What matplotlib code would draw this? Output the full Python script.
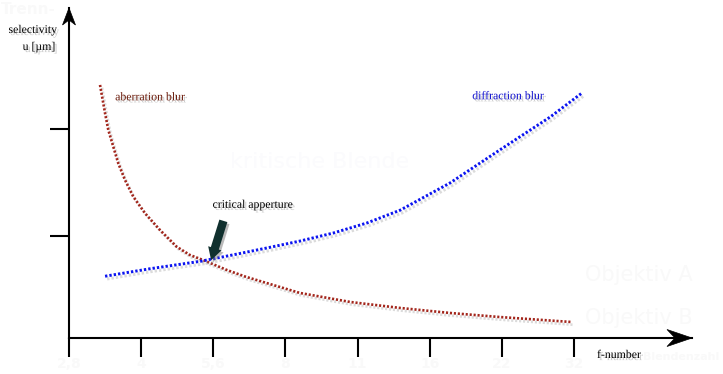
import matplotlib
matplotlib.use("Agg")
import matplotlib.pyplot as plt
import matplotlib.patheffects as pe
import matplotlib.transforms as mtransforms
from matplotlib.patches import Polygon

# ---- data (x = position of the f-stop on the axis, 0 -> 2.8 ... 7 -> 32) ----
fstop_labels = ["2,8", "4", "5,6", "8", "11", "16", "22", "32"]
fstop_pos = [0, 1, 2, 3, 4, 5, 6, 7]

aberr_x = [0.43, 0.50, 0.545, 0.614, 0.683, 0.776, 0.891, 1.054, 1.261, 1.493,
           1.677, 1.86, 2.19, 2.45, 2.74, 3.20, 3.90, 4.59, 5.28, 5.97, 6.97]
aberr_y = [23.76, 21.1, 19.53, 17.96, 16.4, 14.84, 13.27, 11.71, 10.14, 8.57,
           7.79, 7.32, 6.38, 5.75, 5.16, 4.23, 3.38, 2.82, 2.35, 1.97, 1.5]

diff_x = [0.50, 1.12, 1.82, 2.27, 2.74, 3.20, 3.66, 4.13, 4.59, 5.28, 5.97, 6.67, 7.11]
diff_y = [5.8, 6.5, 7.2, 7.8, 8.45, 9.1, 9.85, 10.8, 12.0, 14.55, 17.65, 20.75, 23.0]

ytick_vals = [9.6, 19.6]
critical_point = (1.97, 7.3)

W, H, DPI = 7.23, 3.74, 100
fig = plt.figure(figsize=(W, H), dpi=DPI)
fig.patch.set_facecolor("white")

left, bottom = 69 / 723, (374 - 338) / 374
width, height = (692 - 69) / 723, (338 - 8) / 374
ax = fig.add_axes([left, bottom, width, height])
ax.set_facecolor("white")
ax.set_xlim(0, (692 - 69) / 72.14)
ax.set_ylim(0, 330 / 10.65)

for s in ["top", "right"]:
    ax.spines[s].set_visible(False)
for s in ["left", "bottom"]:
    ax.spines[s].set_linewidth(1.5)
    ax.spines[s].set_color("black")

serif = "Liberation Serif"
ghost = "#f9f9f9"

ax.set_xticks(fstop_pos)
ax.set_xticklabels(fstop_labels, fontsize=10, fontweight="bold", color=ghost,
                   family="DejaVu Sans")
ax.set_yticks(ytick_vals)
ax.set_yticklabels([])
ax.tick_params(axis="both", direction="out", length=14, width=1.5, color="black")
ax.tick_params(axis="x", pad=0)

# arrow heads (stealth shape), sizes in inches relative to the axis end
def head(tip_xy, pts):
    tr = fig.dpi_scale_trans + mtransforms.ScaledTranslation(tip_xy[0], tip_xy[1], ax.transAxes)
    p = Polygon(pts, closed=True, facecolor="black", edgecolor="black",
                lw=0.5, transform=tr, clip_on=False, zorder=5)
    ax.add_patch(p)

head((1, 0), [(0, 0), (-0.25, 0.085), (-0.17, 0), (-0.25, -0.085)])
head((0, 1), [(0, 0), (0.065, -0.17), (0, -0.12), (-0.065, -0.17)])

shadow = [pe.SimpleLineShadow(offset=(1.5, -2), shadow_color="#888888", alpha=0.3),
          pe.Normal()]
ax.plot(aberr_x, aberr_y, color="#a3261c", lw=1.9, linestyle=(0, (0.8, 0.7)),
        path_effects=shadow, zorder=3)
ax.plot(diff_x, diff_y, color="#0b14f0", lw=2.1, linestyle=(0, (0.8, 0.7)),
        path_effects=shadow, zorder=3)

tshadow = [pe.withSimplePatchShadow(offset=(1.5, -1.5), shadow_rgbFace="#999999", alpha=0.5)]

ax.text(0.64, 22.6, "aberration blur", family=serif, fontsize=8.5, color="#6b1a0a",
        ha="left", va="center", path_effects=tshadow)
ax.text(5.59, 22.7, "diffraction blur", family=serif, fontsize=8.5, color="#1010d0",
        ha="left", va="center", path_effects=tshadow)
ax.text(1.99, 12.5, "critical apperture", family=serif, fontsize=8.5, color="black",
        ha="left", va="center", path_effects=tshadow)

ax.annotate("", xy=critical_point, xytext=(2.14, 11.0),
            arrowprops=dict(arrowstyle="simple,head_length=0.9,head_width=1.0,tail_width=0.6",
                            color="#10302e", lw=0, shrinkA=0, shrinkB=0,
                            path_effects=[pe.withSimplePatchShadow(offset=(1.5, -1.5),
                                                                   shadow_rgbFace="#777777",
                                                                   alpha=0.5)]),
            zorder=6)

fig.text(57 / 723, 1 - 30 / 374, "selectivity", family=serif, fontsize=8.5,
         ha="right", va="center", path_effects=tshadow)
fig.text(55 / 723, 1 - 47 / 374, "u [\u00b5m]", family=serif, fontsize=8.5,
         ha="right", va="center", path_effects=tshadow)
fig.text(597 / 723, 1 - 355 / 374, "f-number", family=serif, fontsize=8.5,
         ha="left", va="center", path_effects=tshadow)

# faint background labels from the original German version
fig.text(56 / 723, 1 - 10 / 374, "Trenn-", fontsize=11, fontweight="bold", color=ghost,
         ha="right", va="center")
fig.text(643 / 723, 1 - 357 / 374, "Blendenzahl", fontsize=8, fontweight="bold",
         color=ghost, ha="left", va="center")
fig.text(585 / 723, 1 - 275 / 374, "Objektiv A", fontsize=15, color=ghost,
         ha="left", va="center")
fig.text(585 / 723, 1 - 318 / 374, "Objektiv B", fontsize=15, color=ghost,
         ha="left", va="center")
fig.text(230 / 723, 1 - 162 / 374, "kritische Blende", fontsize=16, color="#fbfbfd",
         ha="left", va="center")

fig.savefig("out.png", dpi=DPI, facecolor="white")
